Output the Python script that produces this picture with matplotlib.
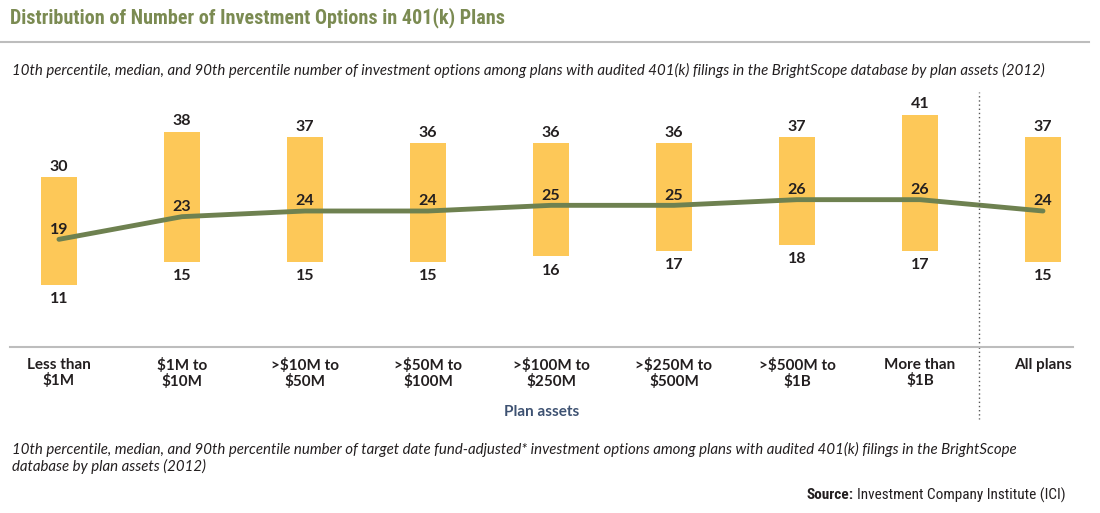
import matplotlib.pyplot as plt
import matplotlib
matplotlib.rcParams["font.family"] = ["Lato", "DejaVu Sans"]

categories = ["Less than\n$1M", "$1M to\n$10M", ">$10M to\n$50M", ">$50M to\n$100M",
              ">$100M to\n$250M", ">$250M to\n$500M", ">$500M to\n$1B", "More than\n$1B",
              "All plans"]
p10 = [11, 15, 15, 15, 16, 17, 18, 17, 15]
median = [19, 23, 24, 24, 25, 25, 26, 26, 24]
p90 = [30, 38, 37, 36, 36, 36, 37, 41, 37]

bar_color = "#FDC858"
line_color = "#6E8150"
text_color = "#231F20"
narrow = ["Roboto Condensed", "Liberation Sans Narrow", "Roboto", "DejaVu Sans"]

fig = plt.figure(figsize=(11, 5.13), dpi=100)

# titel en kopregel
fig.text(10 / 1100, 1 - 18 / 513, "Distribution of Number of Investment Options in 401(k) Plans",
         fontsize=14.5, fontweight="bold", color="#7B8B52", va="center", ha="left",
         family=narrow)
fig.add_artist(plt.Line2D([0, 1089 / 1100], [1 - 42 / 513, 1 - 42 / 513],
                          color="#BDBDBD", lw=1.5, transform=fig.transFigure))
fig.text(12 / 1100, 1 - 70 / 513,
         "10th percentile, median, and 90th percentile number of investment options among plans "
         "with audited 401(k) filings in the BrightScope database by plan assets (2012)",
         fontsize=10.8, style="italic", color=text_color, va="center", ha="left")

ax = fig.add_axes([10 / 1100, 1 - 347 / 513, 1063 / 1100, 255 / 513])
x = list(range(len(categories)))
heights = [h - l for h, l in zip(p90, p10)]
ax.bar(x, heights, bottom=p10, width=0.3, color=bar_color, zorder=1)
ax.plot(x, median, color=line_color, lw=3.5, solid_capstyle="round", zorder=2)

for i in x:
    ax.text(i, p90[i] + 0.6, str(p90[i]), ha="center", va="bottom", fontsize=11.5,
            fontweight="bold", color=text_color)
    ax.text(i, p10[i] - 1.3, str(p10[i]), ha="center", va="top", fontsize=11.5,
            fontweight="bold", color=text_color)
    ax.text(i, median[i] + 0.5, str(median[i]), ha="center", va="bottom", fontsize=11.5,
            fontweight="bold", color=text_color)

ax.set_xlim(-0.398, 8.244)
ax.set_ylim(0, 45)
ax.set_xticks(x)
ax.set_xticklabels(categories, fontsize=11, fontweight="bold", color=text_color, linespacing=1.1)
ax.tick_params(axis="x", length=0, pad=8)
ax.set_yticks([])
for s in ["top", "left", "right"]:
    ax.spines[s].set_visible(False)
ax.spines["bottom"].set_color("#BDBDBD")
ax.spines["bottom"].set_linewidth(1.5)
ax.set_xlabel("Plan assets", fontsize=11, fontweight="bold", color="#3E5272", labelpad=11)

# stippellijn tussen groepen en "All plans"
ax.plot([7.48, 7.48], [0, 45], color="#555555", lw=1, ls=(0, (1, 2)), clip_on=False)
ax.plot([7.48, 7.48], [0, -12.7], color="#555555", lw=1, ls=(0, (1, 2)), clip_on=False)

fig.text(12 / 1100, 1 - 458 / 513,
         "10th percentile, median, and 90th percentile number of target date fund-adjusted* "
         "investment options among plans with audited 401(k) filings in the BrightScope\n"
         "database by plan assets (2012)",
         fontsize=10.8, style="italic", color=text_color, va="center", ha="left", linespacing=1.2)
src = fig.text(1066 / 1100, 1 - 495 / 513, "Investment Company Institute (ICI)", fontsize=11,
               color=text_color, va="center", ha="right", family=narrow)
fig.canvas.draw()
bb = src.get_window_extent()
fig.text((bb.x0 - 4) / 1100, 1 - 495 / 513, "Source:", fontsize=11, fontweight="bold",
         color=text_color, va="center", ha="right", family=narrow)

plt.savefig("out.png")
